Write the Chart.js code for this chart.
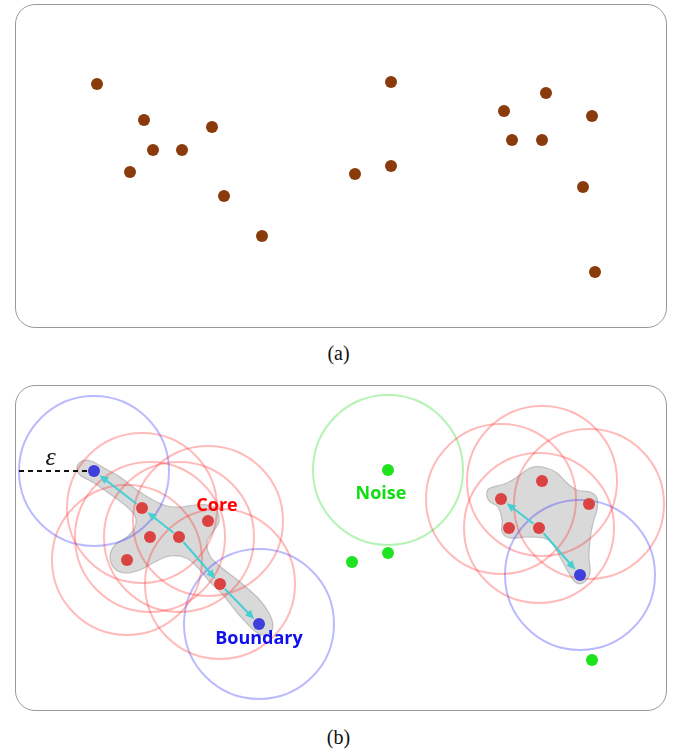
<!DOCTYPE html>
<html lang="en">
<head>
    <meta charset="UTF-8">
    <title>DBSCAN illustration</title>
    <script src="https://cdn.jsdelivr.net/npm/chart.js"></script>
    <style>
        body {
            margin: 0;
            width: 677px;
            height: 750px;
            background: #fff;
            position: relative;
            overflow: hidden;
        }

        .panel {
            position: absolute;
            left: 15px;
            width: 652px;
        }

        .panel::before {
            content: '';
            position: absolute;
            inset: 0;
            border: 1.3px solid #9a9a9a;
            border-radius: 20px;
            pointer-events: none;
        }

        .panel canvas {
            position: absolute;
            left: 0;
            top: 0;
        }

        .caption {
            position: absolute;
            left: 0;
            width: 677px;
            text-align: center;
            font-family: "Liberation Serif", serif;
            font-size: 20px;
            line-height: 20px;
            color: #111;
        }
    </style>
</head>
<body>
    <div class="panel" style="top:4px;height:324px">
        <canvas id="chartA" width="652" height="324"></canvas>
    </div>
    <div class="caption" style="top:343px">(a)</div>

    <div class="panel" style="top:385px;height:326px">
        <canvas id="chartB" width="652" height="326"></canvas>
    </div>
    <div class="caption" style="top:727px">(b)</div>

    <script>
        // panel (a): raw points, panel-local units (x right, y down)
        const pointsA = [
            [82, 80], [129, 116], [197, 123], [138, 146], [167, 146], [115, 168],
            [209, 192], [247, 232], [376, 78], [340, 170], [376, 162], [489, 107],
            [531, 89], [577, 112], [497, 136], [527, 136], [568, 183], [580, 268]
        ];

        // panel (b): labelled points
        const coreB = [
            [127, 123], [193, 136], [135, 152], [164, 152], [112, 175], [205, 199],
            [527, 96], [486, 114], [574, 119], [494, 143], [524, 143]
        ];
        const coreRingsB = [
            [127, 123], [193, 136], [135, 152], [164, 152], [112, 175], [205, 199],
            [527, 96], [486, 114], [574, 119], [524, 143]
        ];
        const boundaryB = [[79, 86], [244, 239], [565, 190]];
        const noiseB = [[373, 85], [373, 168], [337, 177], [577, 275]];
        const noiseRingsB = [[373, 85]];
        const eps = 75;

        // density-reachability arrows (from, to)
        const arrowsB = [
            [[164, 152], [127, 123]], [[127, 123], [79, 86]],
            [[164, 152], [205, 199]], [[205, 199], [244, 239]],
            [[524, 143], [486, 114]], [[524, 143], [565, 190]]
        ];

        // cluster outlines
        const blobLeft = [
            [62, 82], [67, 76], [76, 76], [89, 83], [105, 92], [122, 105], [138, 115],
            [152, 121], [166, 122], [180, 120], [193, 120], [202, 125], [204, 137],
            [198, 147], [192, 157], [195, 171], [207, 183], [225, 197], [243, 213],
            [254, 228], [258, 241], [253, 250], [241, 247], [225, 231], [209, 211],
            [195, 197], [183, 183], [171, 173], [155, 171], [140, 177], [125, 185],
            [110, 188], [99, 183], [95, 171], [100, 160], [112, 152], [120, 142],
            [120, 131], [111, 121], [95, 109], [79, 98], [65, 90]
        ];
        const blobRight = [
            [472, 107], [475, 103], [492, 98], [505, 90], [515, 83], [528, 82], [542, 88],
            [552, 98], [562, 105], [575, 107], [582, 113], [582, 125], [578, 138],
            [575, 155], [574, 172], [575, 188], [568, 198], [560, 197], [552, 185],
            [545, 172], [537, 158], [528, 153], [512, 152], [495, 153], [487, 147],
            [487, 135], [483, 122], [475, 117], [472, 112]
        ];

        const labelsB = ['Core', 'Boundary', 'Noise'];
        const labelPosB = [[202, 126], [244, 259], [366, 114]];
        const labelColorsB = ['#ff0000', '#1010ee', '#11dd11'];

        const toXY = arr => arr.map(p => ({ x: p[0], y: p[1] }));

        function smoothPath(ctx, pts) {
            const n = pts.length;
            ctx.beginPath();
            ctx.moveTo(pts[0][0], pts[0][1]);
            for (let i = 0; i < n; i++) {
                const p0 = pts[(i - 1 + n) % n], p1 = pts[i], p2 = pts[(i + 1) % n], p3 = pts[(i + 2) % n];
                ctx.bezierCurveTo(
                    p1[0] + (p2[0] - p0[0]) / 6, p1[1] + (p2[1] - p0[1]) / 6,
                    p2[0] - (p3[0] - p1[0]) / 6, p2[1] - (p3[1] - p1[1]) / 6,
                    p2[0], p2[1]);
            }
            ctx.closePath();
        }

        function makeDiagram(cfg) {
            return {
                id: 'diagram',
                beforeDatasetsDraw(chart) {
                    const { ctx, scales: { x, y } } = chart;
                    const px = p => [x.getPixelForValue(p[0]), y.getPixelForValue(p[1])];
                    (cfg.blobs || []).forEach(b => {
                        ctx.save();
                        smoothPath(ctx, b.map(px));
                        ctx.fillStyle = 'rgba(165,165,165,0.42)';
                        ctx.fill();
                        ctx.strokeStyle = 'rgba(140,140,140,0.45)';
                        ctx.lineWidth = 1.2;
                        ctx.stroke();
                        ctx.restore();
                    });
                },
                afterDatasetsDraw(chart) {
                    const { ctx, scales: { x, y } } = chart;
                    const px = p => [x.getPixelForValue(p[0]), y.getPixelForValue(p[1])];

                    // arrows
                    (cfg.arrows || []).forEach(([from, to]) => {
                        const a = px(from), b = px(to);
                        const len = Math.hypot(b[0] - a[0], b[1] - a[1]);
                        const dx = (b[0] - a[0]) / len, dy = (b[1] - a[1]) / len;
                        const s = [a[0] + dx * 7, a[1] + dy * 7];
                        const e = [b[0] - dx * 7, b[1] - dy * 7];
                        const head = 9, hw = 4;
                        ctx.save();
                        ctx.strokeStyle = '#46cfd3';
                        ctx.fillStyle = '#46cfd3';
                        ctx.lineWidth = 2;
                        ctx.beginPath();
                        ctx.moveTo(s[0], s[1]);
                        ctx.lineTo(e[0] - dx * head * 0.7, e[1] - dy * head * 0.7);
                        ctx.stroke();
                        ctx.beginPath();
                        ctx.moveTo(e[0], e[1]);
                        ctx.lineTo(e[0] - dx * head - dy * hw, e[1] - dy * head + dx * hw);
                        ctx.lineTo(e[0] - dx * head + dy * hw, e[1] - dy * head - dx * hw);
                        ctx.closePath();
                        ctx.fill();
                        ctx.restore();
                    });

                    // epsilon radius
                    if (cfg.epsAnchor) {
                        const c = px(cfg.epsAnchor);
                        const l = px([cfg.epsAnchor[0] - cfg.eps, cfg.epsAnchor[1]]);
                        ctx.save();
                        ctx.strokeStyle = '#111';
                        ctx.lineWidth = 2;
                        ctx.setLineDash([5, 4]);
                        ctx.beginPath();
                        ctx.moveTo(l[0], l[1]);
                        ctx.lineTo(c[0] - 6, c[1]);
                        ctx.stroke();
                        ctx.setLineDash([]);
                        ctx.fillStyle = '#111';
                        ctx.font = 'italic 26px "Liberation Serif", serif';
                        ctx.textAlign = 'center';
                        ctx.textBaseline = 'alphabetic';
                        ctx.fillText('\u03B5', (l[0] + c[0]) / 2 - 6, c[1] - 6);
                        ctx.restore();
                    }

                    // labels
                    (cfg.labels || []).forEach((t, i) => {
                        const p = px(cfg.labelPos[i]);
                        ctx.save();
                        ctx.fillStyle = cfg.labelColors[i];
                        ctx.font = 'bold 18px "Open Sans", sans-serif';
                        ctx.textAlign = 'center';
                        ctx.textBaseline = 'alphabetic';
                        ctx.fillText(t, p[0], p[1]);
                        ctx.restore();
                    });
                }
            };
        }

        function baseOptions(h) {
            return {
                responsive: false,
                animation: false,
                events: [],
                layout: { padding: 0, autoPadding: false },
                plugins: { legend: { display: false }, tooltip: { enabled: false } },
                scales: {
                    x: { type: 'linear', min: 0, max: 652, display: false },
                    y: { type: 'linear', min: 0, max: h, reverse: true, display: false }
                }
            };
        }

        function dots(data, color, order) {
            return {
                data: toXY(data),
                pointRadius: 6,
                pointHoverRadius: 6,
                pointBorderWidth: 0,
                backgroundColor: color,
                borderColor: color,
                clip: false,
                order: order
            };
        }

        function rings(data, color) {
            return {
                data: toXY(data),
                pointRadius: eps,
                pointHoverRadius: eps,
                pointBorderWidth: 2,
                backgroundColor: 'rgba(0,0,0,0)',
                borderColor: color,
                clip: false,
                order: 5
            };
        }

        new Chart(document.getElementById('chartA'), {
            type: 'scatter',
            data: { datasets: [dots(pointsA, '#8a3b0c', 1)] },
            options: baseOptions(324)
        });

        new Chart(document.getElementById('chartB'), {
            type: 'scatter',
            data: {
                datasets: [
                    dots(coreB, '#db4242', 1),
                    dots(boundaryB, '#3f3fdb', 1),
                    dots(noiseB, '#1ee31e', 1),
                    rings(coreRingsB, 'rgba(255,40,40,0.32)'),
                    rings(boundaryB, 'rgba(40,40,255,0.32)'),
                    rings(noiseRingsB, 'rgba(40,220,40,0.35)')
                ]
            },
            options: baseOptions(326),
            plugins: [makeDiagram({
                blobs: [blobLeft, blobRight],
                arrows: arrowsB,
                epsAnchor: boundaryB[0],
                eps: eps,
                labels: labelsB,
                labelPos: labelPosB,
                labelColors: labelColorsB
            })]
        });
    </script>
</body>
</html>
